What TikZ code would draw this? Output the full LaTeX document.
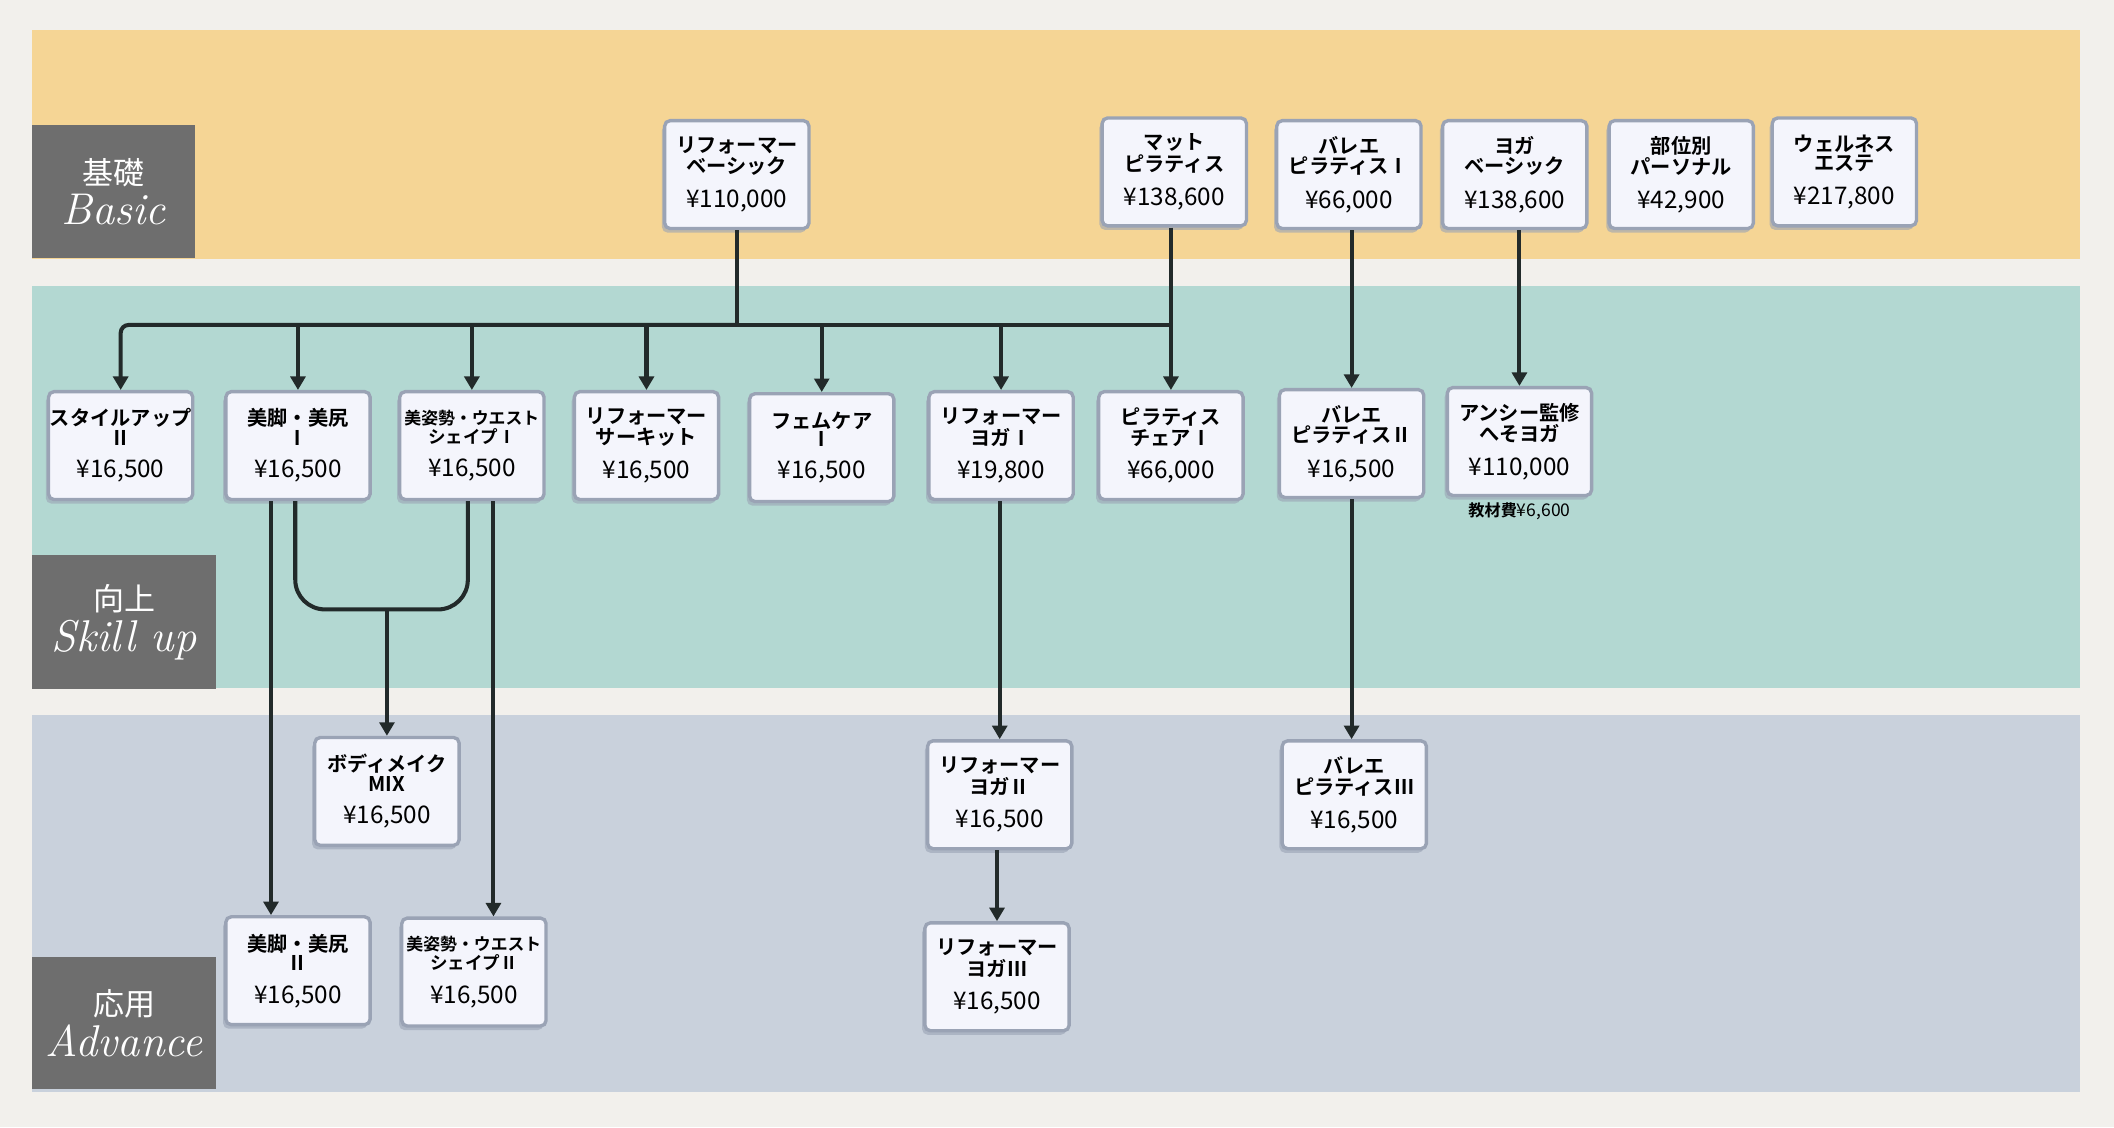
\documentclass[tikz,border=0pt]{standalone}
\usepackage{fontspec}
\newfontfamily\jp{Noto Sans CJK JP}
\newfontfamily\jpb{Noto Sans CJK JP Bold}
\usetikzlibrary{arrows.meta,shadows}
\definecolor{bgc}{HTML}{F2F0EC}
\definecolor{yel}{HTML}{F5D595}
\definecolor{tea}{HTML}{B3D8D2}
\definecolor{blg}{HTML}{C9D1DC}
\definecolor{labc}{HTML}{6E6E6E}
\definecolor{nfill}{HTML}{F4F5FC}
\definecolor{ndraw}{HTML}{9AA3B5}
\definecolor{ink}{HTML}{222A2A}
\tikzset{
  nbox/.style={draw=ndraw, line width=2.5pt, fill=nfill, rounded corners=4pt, minimum width=107pt, minimum height=80pt, align=center, inner sep=1pt, drop shadow={shadow xshift=-2pt, shadow yshift=-3pt, fill=ndraw, opacity=0.6}},
  labbox/.style={fill=labc, text=white, align=center, inner sep=0pt},
  con/.style={draw=ink, line width=3pt, rounded corners=6pt},
  arr/.style={con, -{Triangle[length=10pt,width=11pt]}},
}
\newcommand{\mynt}[3]{{\jpb\fontsize{15}{18}\selectfont #1}\\[1pt]{\jpb\fontsize{15}{18}\selectfont #2}\\[10pt]{\jp\fontsize{18}{20}\selectfont ¥#3}}
\newcommand{\myns}[3]{{\jpb\fontsize{12.5}{18}\selectfont #1}\\[1pt]{\jpb\fontsize{13}{18}\selectfont #2}\\[10pt]{\jp\fontsize{18}{20}\selectfont ¥#3}}
\begin{document}
\begin{tikzpicture}[x=1pt,y=-1pt]
\useasboundingbox (0,0) rectangle (1568,836);
\fill[bgc] (0,0) rectangle (1568,836);
\fill[yel] (24,22) rectangle (1543,192);
\fill[tea] (24,212) rectangle (1543,510);
\fill[blg] (24,530) rectangle (1543,810);
\node[labbox, minimum width=121pt, minimum height=98pt] (lb1) at (84.5,142) {{\jp\fontsize{23}{26}\selectfont 基礎}\\[4pt]{\itshape\fontsize{33}{34}\selectfont Basic}};
\node[labbox, minimum width=136pt, minimum height=99pt] (lb2) at (92,461.5) {{\jp\fontsize{23}{26}\selectfont 向上}\\[4pt]{\itshape\fontsize{33}{34}\selectfont Skill up}};
\node[labbox, minimum width=136pt, minimum height=98pt] (lb3) at (92,759) {{\jp\fontsize{23}{26}\selectfont 応用}\\[4pt]{\itshape\fontsize{33}{34}\selectfont Advance}};
% basic row
\node[nbox] (rb) at (546.5,129.5) {\mynt{リフォーマー}{ベーシック}{110,000}};
\node[nbox] (mp) at (871,127.5) {\mynt{マット}{ピラティス}{138,600}};
\node[nbox] (b1) at (1000.5,129.5) {\mynt{バレエ}{ピラティスⅠ}{66,000}};
\node[nbox] (yb) at (1123.5,129.5) {\mynt{ヨガ}{ベーシック}{138,600}};
\node[nbox] (bp) at (1247,129.5) {\mynt{部位別}{パーソナル}{42,900}};
\node[nbox] (we) at (1368,127.5) {\mynt{ウェルネス}{エステ}{217,800}};
% skill row
\node[nbox] (s2) at (89.5,330.5) {\mynt{スタイルアップ}{Ⅱ}{16,500}};
\node[nbox] (bk1) at (221,330.5) {\mynt{美脚・美尻}{Ⅰ}{16,500}};
\node[nbox] (bs1) at (350,330.5) {\myns{美姿勢・ウエスト}{シェイプⅠ}{16,500}};
\node[nbox] (rc) at (479.5,330.5) {\mynt{リフォーマー}{サーキット}{16,500}};
\node[nbox] (fc) at (609.5,332) {\mynt{フェムケア}{Ⅰ}{16,500}};
\node[nbox] (ry1) at (742.5,330.5) {\mynt{リフォーマー}{ヨガⅠ}{19,800}};
\node[nbox] (pc) at (868.5,330.5) {\mynt{ピラティス}{チェアⅠ}{66,000}};
\node[nbox] (b2) at (1002.5,329) {\mynt{バレエ}{ピラティスⅡ}{16,500}};
\node[nbox] (an) at (1127,327.5) {\mynt{アンシー監修}{へそヨガ}{110,000}};
\node (km) at (1127,379) {{\jpb\fontsize{12}{14}\selectfont 教材費}{\jp\fontsize{13}{14}\selectfont ¥6,600}};
% advance row
\node[nbox] (bm) at (287,587) {\mynt{ボディメイク}{MIX}{16,500}};
\node[nbox] (ry2) at (741.5,589.5) {\mynt{リフォーマー}{ヨガⅡ}{16,500}};
\node[nbox] (b3) at (1004.5,589.5) {\mynt{バレエ}{ピラティスⅢ}{16,500}};
\node[nbox] (bk2) at (221,720) {\mynt{美脚・美尻}{Ⅱ}{16,500}};
\node[nbox] (bs2) at (351.5,721) {\myns{美姿勢・ウエスト}{シェイプⅡ}{16,500}};
\node[nbox] (ry3) at (739.5,724.5) {\mynt{リフォーマー}{ヨガⅢ}{16,500}};
% connectors
\coordinate (bus) at (546.5,241);
\coordinate (busr) at (868.5,241);
\coordinate (busl) at (89.5,241);
\coordinate (mg) at (287,452);
\draw[con] (rb.south) -- (bus);
\draw[arr] (pc.north |- mp.south) -- (pc.north);
\draw[con] (busr) -- (bus);
\draw[arr] (bus) -- (busl) -- (s2.north);
\foreach \n in {bk1,bs1,rc,fc,ry1}{\draw[arr] (\n.north |- bus) -- (\n.north);}
\draw[arr] ([xshift=-20pt]bk1.south) -- ([xshift=-20pt]bk2.north);
\draw[arr] ([xshift=16pt]bs1.south) -- ([xshift=14.5pt]bs2.north);
\draw[con, rounded corners=22pt] ([xshift=-2pt]bk1.south) -- ([xshift=-2pt]bk1.south |- mg) -- ([xshift=-3pt]bs1.south |- mg) -- ([xshift=-3pt]bs1.south);
\draw[arr] (mg) -- (bm.north);
\draw[arr] (ry2.north |- ry1.south) -- (ry2.north);
\draw[arr] (ry3.north |- ry2.south) -- (ry3.north);
\draw[arr] (b2.north |- b1.south) -- (b2.north);
\draw[arr] (b2.south) -- (b2.south |- b3.north);
\draw[arr] (an.north |- yb.south) -- (an.north);
\end{tikzpicture}
\end{document}
